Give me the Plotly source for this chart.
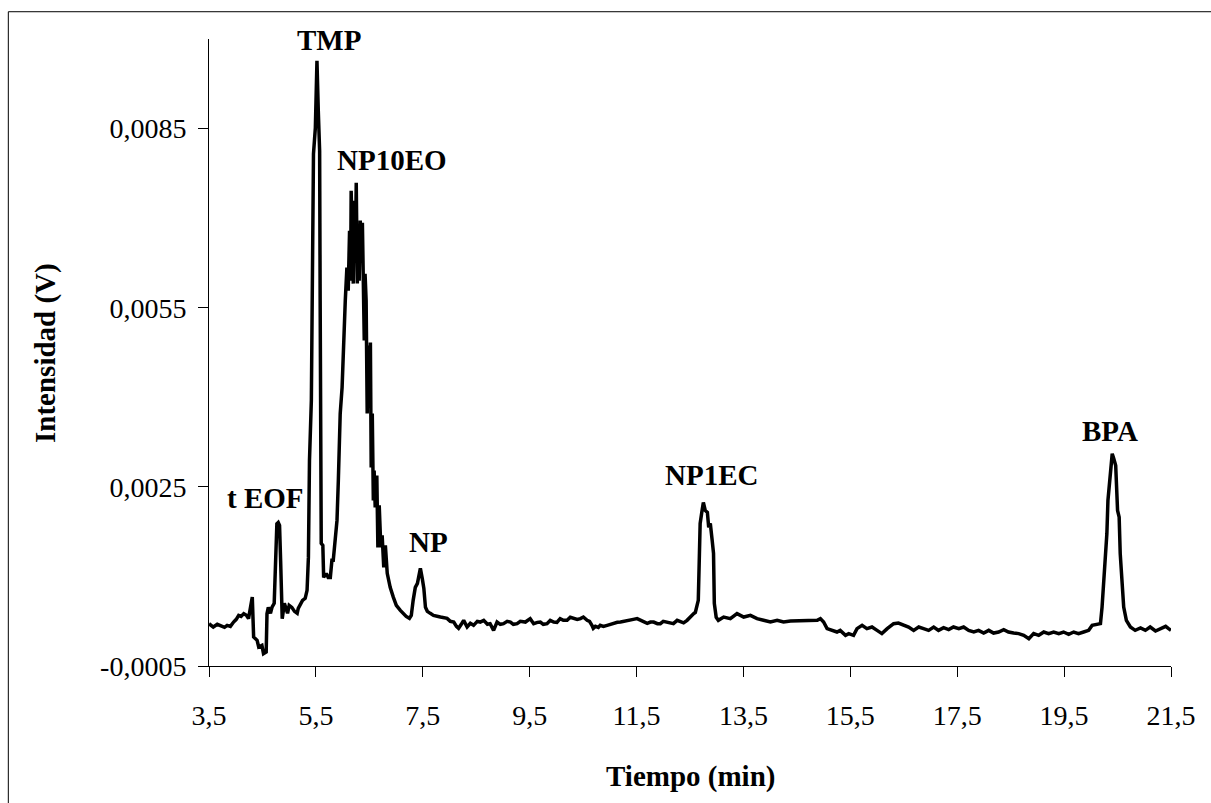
import plotly.graph_objects as go

# ---- data ----
time_min = [
    3.50, 3.58, 3.655, 3.71, 3.79, 3.84, 3.90, 3.96, 4.01, 4.055, 4.10, 4.15, 4.20, 4.24,
    4.29, 4.31, 4.335, 4.40, 4.43, 4.49, 4.52, 4.57, 4.585, 4.61, 4.65, 4.68, 4.72, 4.745,
    4.77, 4.795, 4.82, 4.84, 4.85, 4.87, 4.91, 4.95, 4.97, 5.00, 5.05, 5.10, 5.15, 5.17,
    5.21, 5.25, 5.30, 5.335, 5.36, 5.38, 5.415, 5.43, 5.455, 5.49, 5.52, 5.545, 5.57, 5.58,
    5.59, 5.60, 5.63, 5.645, 5.695, 5.73, 5.77, 5.80, 5.825, 5.86, 5.895, 5.92, 5.955, 5.99,
    6.02, 6.05, 6.08, 6.105, 6.13, 6.15, 6.16, 6.18, 6.20, 6.22, 6.24, 6.255, 6.275, 6.29,
    6.31, 6.33, 6.35, 6.37, 6.385, 6.405, 6.42, 6.44, 6.46, 6.48, 6.50, 6.52, 6.535, 6.555,
    6.575, 6.59, 6.61, 6.64, 6.66, 6.685, 6.715, 6.74, 6.77, 6.80, 6.835, 6.89, 6.95, 7.005,
    7.08, 7.135, 7.19, 7.25, 7.285, 7.32, 7.36, 7.40, 7.425, 7.455, 7.49, 7.52, 7.55, 7.585,
    7.64, 7.70, 7.83, 7.955, 8.015, 8.08, 8.13, 8.17, 8.22, 8.265, 8.33, 8.39, 8.45, 8.52,
    8.575, 8.64, 8.71, 8.76, 8.825, 8.89, 8.95, 9.01, 9.08, 9.14, 9.195, 9.265, 9.325, 9.42,
    9.51, 9.575, 9.645, 9.70, 9.755, 9.825, 9.885, 9.95, 10.01, 10.07, 10.13, 10.20, 10.26,
    10.32, 10.39, 10.45, 10.505, 10.575, 10.62, 10.665, 10.69, 10.73, 10.785, 10.82, 10.88,
    10.95, 11.01, 11.07, 11.14, 11.20, 11.29, 11.385, 11.44, 11.51, 11.57, 11.63, 11.70,
    11.76, 11.82, 11.89, 11.945, 12.00, 12.07, 12.13, 12.19, 12.26, 12.32, 12.38, 12.445,
    12.50, 12.57, 12.60, 12.655, 12.67, 12.69, 12.72, 12.75, 12.785, 12.825, 12.85, 12.88,
    12.915, 12.94, 12.955, 12.99, 13.03, 13.13, 13.255, 13.38, 13.505, 13.63, 13.755, 13.88,
    14.005, 14.13, 14.25, 14.38, 14.50, 14.63, 14.75, 14.88, 14.94, 15.00, 15.065, 15.16,
    15.25, 15.31, 15.41, 15.47, 15.56, 15.625, 15.72, 15.81, 15.905, 16.00, 16.09, 16.19,
    16.31, 16.40, 16.50, 16.59, 16.685, 16.78, 16.87, 16.965, 17.06, 17.15, 17.245, 17.34,
    17.43, 17.53, 17.62, 17.715, 17.81, 17.90, 17.995, 18.09, 18.18, 18.275, 18.37, 18.46,
    18.555, 18.65, 18.745, 18.84, 18.93, 19.025, 19.12, 19.21, 19.305, 19.40, 19.49, 19.585,
    19.68, 19.77, 19.865, 19.96, 20.025, 20.18, 20.21, 20.24, 20.27, 20.30, 20.32, 20.35,
    20.38, 20.40, 20.43, 20.465, 20.50, 20.53, 20.55, 20.585, 20.615, 20.665, 20.74, 20.83,
    20.93, 21.02, 21.11, 21.21, 21.30, 21.40, 21.455, 21.50,
]

intensity_V = [
    0.000209, 0.000153, 0.000198, 0.000181, 0.000147, 0.000181, 0.000164, 0.000236, 0.000281,
    0.000348, 0.000331, 0.000377, 0.000348, 0.000293, 0.000599, 0.000654, -0.000015, -0.000070,
    -0.000182, -0.000154, -0.000293, -0.000266, 0.000377, 0.000482, 0.000382, 0.000487,
    0.000549, 0.001156, 0.001883, 0.001904, 0.001854, 0.001268, 0.000599, 0.000293, 0.000549,
    0.000398, 0.000382, 0.000516, 0.000482, 0.000415, 0.000382, 0.000465, 0.000549, 0.000599,
    0.000633, 0.000767, 0.001319, 0.002942, 0.003946, 0.005117, 0.008078, 0.008513, 0.009635,
    0.008798, 0.008130, 0.005620, 0.002940, 0.001553, 0.001520, 0.000984, 0.001051, 0.000984,
    0.000984, 0.001269, 0.001269, 0.001603, 0.001938, 0.002607, 0.003728, 0.004163, 0.005117,
    0.005619, 0.006170, 0.005786, 0.006790, 0.005954, 0.007460, 0.006289, 0.005904, 0.007293,
    0.006456, 0.007594, 0.005904, 0.006790, 0.005954, 0.006958, 0.006289, 0.006924, 0.006069,
    0.004950, 0.006069, 0.005619, 0.003728, 0.004866, 0.003946, 0.004916, 0.002825, 0.003728,
    0.002272, 0.002774, 0.002155, 0.002690, 0.001486, 0.002189, 0.001486, 0.001687, 0.001151,
    0.001519, 0.001051, 0.000817, 0.000650, 0.000516, 0.000432, 0.000382, 0.000331, 0.000298,
    0.000348, 0.000599, 0.000817, 0.000884, 0.000984, 0.001135, 0.000967, 0.000800, 0.000482,
    0.000415, 0.000382, 0.000348, 0.000320, 0.000298, 0.000248, 0.000236, 0.000164, 0.000131,
    0.000198, 0.000265, 0.000153, 0.000214, 0.000181, 0.000248, 0.000236, 0.000265, 0.000198,
    0.000209, 0.000097, 0.000236, 0.000198, 0.000209, 0.000248, 0.000236, 0.000198, 0.000209,
    0.000248, 0.000236, 0.000293, 0.000209, 0.000231, 0.000236, 0.000198, 0.000209, 0.000265,
    0.000236, 0.000231, 0.000293, 0.000265, 0.000265, 0.000315, 0.000293, 0.000281, 0.000293,
    0.000320, 0.000265, 0.000248, 0.000181, 0.000131, 0.000164, 0.000147, 0.000181, 0.000164,
    0.000181, 0.000198, 0.000209, 0.000231, 0.000236, 0.000248, 0.000265, 0.000281, 0.000293,
    0.000265, 0.000236, 0.000214, 0.000236, 0.000236, 0.000209, 0.000209, 0.000248, 0.000236,
    0.000214, 0.000209, 0.000265, 0.000236, 0.000223, 0.000265, 0.000320, 0.000377, 0.000398,
    0.000599, 0.001151, 0.001887, 0.002072, 0.002239, 0.002105, 0.002072, 0.001820, 0.001887,
    0.001603, 0.001386, 0.000549, 0.000315, 0.000265, 0.000320, 0.000293, 0.000377, 0.000320,
    0.000348, 0.000293, 0.000265, 0.000236, 0.000265, 0.000236, 0.000253, 0.000253, 0.000265,
    0.000253, 0.000265, 0.000293, 0.000236, 0.000126, 0.000097, 0.000069, 0.000097, 0.000014,
    0.000042, 0.000014, 0.000126, 0.000181, 0.000126, 0.000153, 0.000097, 0.000042, 0.000126,
    0.000209, 0.000220, 0.000181, 0.000153, 0.000097, 0.000153, 0.000126, 0.000097, 0.000153,
    0.000097, 0.000142, 0.000109, 0.000153, 0.000126, 0.000153, 0.000097, 0.000069, 0.000097,
    0.000052, 0.000097, 0.000052, 0.000069, 0.000109, 0.000069, 0.000052, 0.000042, 0.000014,
    -0.000042, 0.000042, 0.000014, 0.000069, 0.000042, 0.000069, 0.000042, 0.000069, 0.000030,
    0.000069, 0.000042, 0.000069, 0.000097, 0.000181, 0.000209, 0.000487, 0.000934, 0.001324,
    0.001715, 0.002272, 0.002551, 0.002942, 0.003054, 0.002970, 0.002858, 0.002105, 0.001993,
    0.001380, 0.000822, 0.000487, 0.000265, 0.000153, 0.000097, 0.000136, 0.000097, 0.000153,
    0.000086, 0.000126, 0.000164, 0.000126, 0.000097,
]

x_tick_values = [3.5, 5.5, 7.5, 9.5, 11.5, 13.5, 15.5, 17.5, 19.5, 21.5]
x_tick_labels = ["3,5", "5,5", "7,5", "9,5", "11,5", "13,5", "15,5", "17,5", "19,5", "21,5"]
y_tick_values = [-0.0005, 0.0025, 0.0055, 0.0085]
y_tick_labels = ["-0,0005", "0,0025", "0,0055", "0,0085"]

peak_labels = ["t EOF", "TMP", "NP10EO", "NP", "NP1EC", "BPA"]
peak_label_time = [4.56, 5.75, 6.93, 7.60, 12.91, 20.35]
peak_label_intensity = [0.00231, 0.00999, 0.00797, 0.00157, 0.00270, 0.00344]

x_title = "Tiempo (min)"
y_title = "Intensidad (V)"

# ---- figure ----
FONT = "Liberation Serif"

fig = go.Figure()
fig.add_trace(go.Scatter(
    x=time_min, y=intensity_V, mode="lines",
    line=dict(color="black", width=3.5),
    showlegend=False, hoverinfo="skip",
))

for lab, tx, ty in zip(peak_labels, peak_label_time, peak_label_intensity):
    fig.add_annotation(
        x=tx, y=ty, xref="x", yref="y", text=f"<b>{lab}</b>", showarrow=False,
        font=dict(family=FONT, size=29, color="black"),
        xanchor="center", yanchor="middle",
    )

fig.add_annotation(
    x=0.5, y=-0.177, xref="paper", yref="paper", text=f"<b>{x_title}</b>",
    showarrow=False, font=dict(family=FONT, size=29, color="black"),
    xanchor="center", yanchor="middle",
)
fig.add_annotation(
    x=-0.170, y=0.5, xref="paper", yref="paper", text=f"<b>{y_title}</b>",
    showarrow=False, textangle=-90, font=dict(family=FONT, size=29, color="black"),
    xanchor="center", yanchor="middle",
)

# outer frame (extends past the right and bottom edges of the picture)
fig.add_shape(
    type="rect", xref="paper", yref="paper",
    x0=-0.2086, x1=1.06, y0=-0.25, y1=1.0435,
    line=dict(color="black", width=1), fillcolor="rgba(0,0,0,0)", layer="below",
)

axis_common = dict(
    showline=True, linecolor="black", linewidth=1, ticks="outside", ticklen=10,
    tickcolor="black", tickwidth=1, showgrid=False, zeroline=False,
    tickfont=dict(family=FONT, size=28, color="black"),
)

fig.update_layout(
    width=1211, height=803,
    margin=dict(l=209, r=40, t=39, b=137, autoexpand=False),
    paper_bgcolor="white", plot_bgcolor="white",
    font=dict(family=FONT, color="black"),
    xaxis=dict(range=[3.5, 21.5], tickmode="array", tickvals=x_tick_values,
               ticktext=x_tick_labels, ticklabelstandoff=14, **axis_common),
    yaxis=dict(range=[-0.0005, 0.0100], tickmode="array", tickvals=y_tick_values,
               ticktext=y_tick_labels, ticklabelstandoff=6, **axis_common),
)

fig.write_html("out.html")
